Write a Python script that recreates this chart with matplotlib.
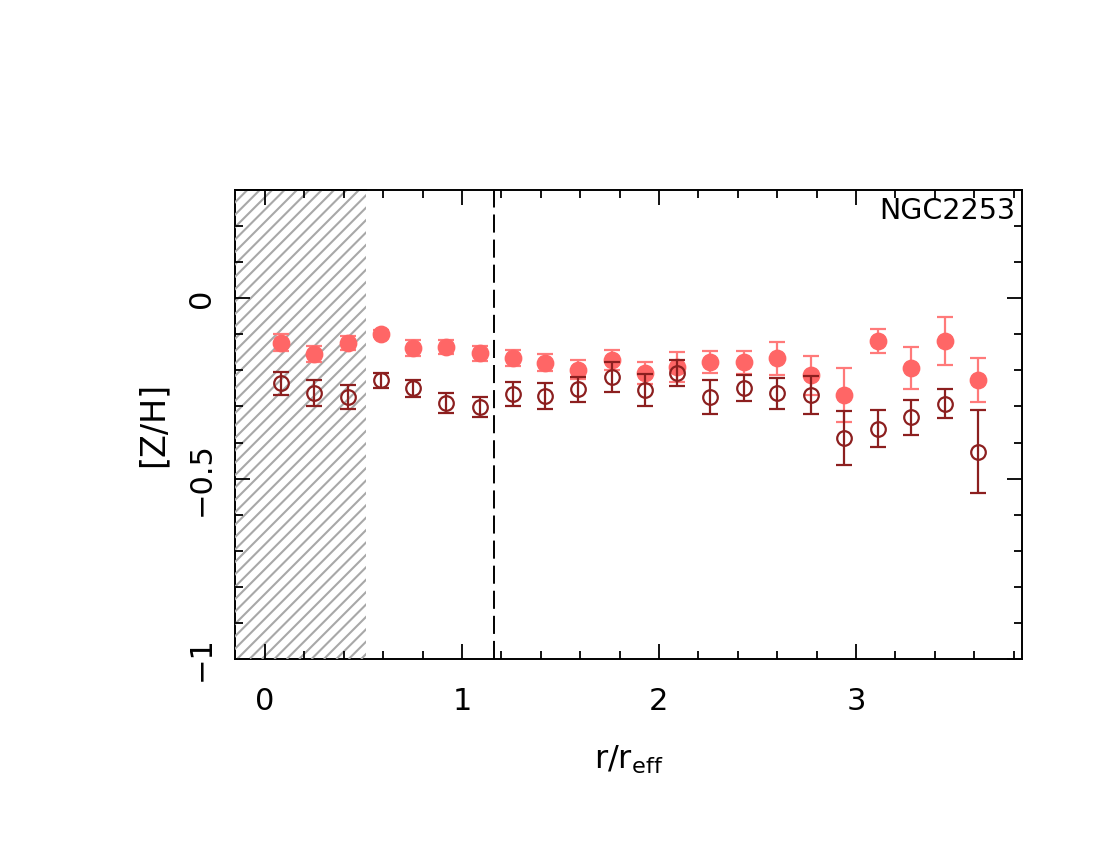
import numpy as np
import matplotlib
matplotlib.use('Agg')
import matplotlib.pyplot as plt
from matplotlib.patches import Rectangle
from matplotlib.ticker import MultipleLocator

# radial bins (r/r_eff)
r = [0.08, 0.25, 0.42, 0.59, 0.75, 0.92, 1.09, 1.26, 1.42, 1.59, 1.76,
     1.93, 2.09, 2.26, 2.43, 2.60, 2.77, 2.94, 3.11, 3.28, 3.45, 3.62]

# filled points
zh_fill = [-0.123, -0.155, -0.124, -0.098, -0.138, -0.135, -0.153, -0.165,
           -0.179, -0.198, -0.172, -0.207, -0.190, -0.176, -0.178, -0.166,
           -0.214, -0.268, -0.118, -0.193, -0.118, -0.228]
err_fill = [0.023, 0.023, 0.020, 0.010, 0.022, 0.020, 0.020, 0.022,
            0.024, 0.026, 0.028, 0.030, 0.041, 0.030, 0.033, 0.046,
            0.055, 0.074, 0.034, 0.059, 0.067, 0.061]

# open points
zh_open = [-0.236, -0.264, -0.273, -0.227, -0.250, -0.290, -0.301, -0.266,
           -0.271, -0.253, -0.218, -0.255, -0.207, -0.273, -0.248, -0.264,
           -0.269, -0.387, -0.362, -0.330, -0.292, -0.425]
err_open = [0.032, 0.036, 0.033, 0.021, 0.024, 0.028, 0.027, 0.033,
            0.037, 0.034, 0.042, 0.045, 0.035, 0.047, 0.036, 0.042,
            0.053, 0.074, 0.051, 0.048, 0.039, 0.115]

r_inner = 0.515   # hatched (excluded) region
r_dash = 1.164    # dashed reference line
xmin, xmax = -0.152, 3.843
ymin, ymax = -1.0, 0.3

c_fill = '#ff6666'
c_fill_err = '#ff7a7a'
c_open = '#8c1f1f'
c_hatch = '#a8a8a8'

plt.rcParams['font.family'] = 'DejaVu Sans'

fig = plt.figure(figsize=(11, 8.5), dpi=100)
ax_pos = [0.2136, 0.2247, 0.7155, 0.5518]
ax = fig.add_axes(ax_pos)

ax.set_xlim(xmin, xmax)
ax.set_ylim(ymin, ymax)

# hatched region: 45 deg grey lines, drawn over left/bottom spines
box = Rectangle((xmin, ymin), r_inner - xmin, ymax - ymin,
                facecolor='none', edgecolor='none', zorder=2)
ax.add_patch(box)
px_x = ax_pos[2] * 1100 / (xmax - xmin)   # pixels per x unit
px_y = ax_pos[3] * 850 / (ymax - ymin)    # pixels per y unit
slope = px_x / px_y
step = 12.4 / px_x
x_span = (ymax - ymin) / slope
for x0 in np.arange(xmin - x_span, r_inner + step, step):
    ln, = ax.plot([x0, x0 + x_span], [ymin, ymax], color=c_hatch, lw=1.5,
                  solid_capstyle='butt', zorder=2)
    ln.set_clip_path(box)
ax.plot([xmin, r_inner], [ymax, ymax], color='black', lw=1.4,
        zorder=2.6, clip_on=False)

ax.axvline(r_dash, color='black', ls=(0, (9.3, 3.6)), lw=1.4, zorder=2.2)

ax.errorbar(r, zh_fill, yerr=err_fill, fmt='none', ecolor=c_fill_err,
            elinewidth=1.6, capsize=5.8, capthick=1.6, zorder=3)
ax.plot(r, zh_fill, 'o', color=c_fill, markersize=11.8, zorder=3.1)

ax.errorbar(r, zh_open, yerr=err_open, fmt='none', ecolor=c_open,
            elinewidth=1.6, capsize=5.8, capthick=1.6, zorder=4)
ax.plot(r, zh_open, 'o', mfc='none', mec=c_open, mew=1.6,
        markersize=10.5, zorder=4.1)

ax.text(0.992, 0.985, 'NGC2253', transform=ax.transAxes, ha='right', va='top',
        fontsize=20.5, zorder=5)

for sp in ax.spines.values():
    sp.set_linewidth(1.4)
    sp.set_zorder(1)
ax.set_axisbelow(False)

ax.xaxis.set_major_locator(MultipleLocator(1))
ax.xaxis.set_minor_locator(MultipleLocator(0.2))
ax.yaxis.set_major_locator(MultipleLocator(0.5))
ax.yaxis.set_minor_locator(MultipleLocator(0.1))
ax.tick_params(which='both', direction='in', top=True, right=True, width=1.3)
ax.tick_params(which='major', length=11, labelsize=22)
ax.tick_params(which='minor', length=5.5)
ax.tick_params(axis='x', which='major', pad=20)
ax.tick_params(axis='y', which='major', pad=14)
ax.set_xticks([0, 1, 2, 3])
ax.set_xticklabels(['0', '1', '2', '3'])
ax.set_yticks([-1, -0.5, 0])
ax.set_yticklabels(['\u22121', '\u22120.5', '0'], rotation=90, va='center')

ax.set_xlabel(r'r/r$_{\mathregular{eff}}$', fontsize=23, labelpad=20)
ax.set_ylabel('[Z/H]', fontsize=24, labelpad=12)

fig.savefig('out.png', dpi=100)
